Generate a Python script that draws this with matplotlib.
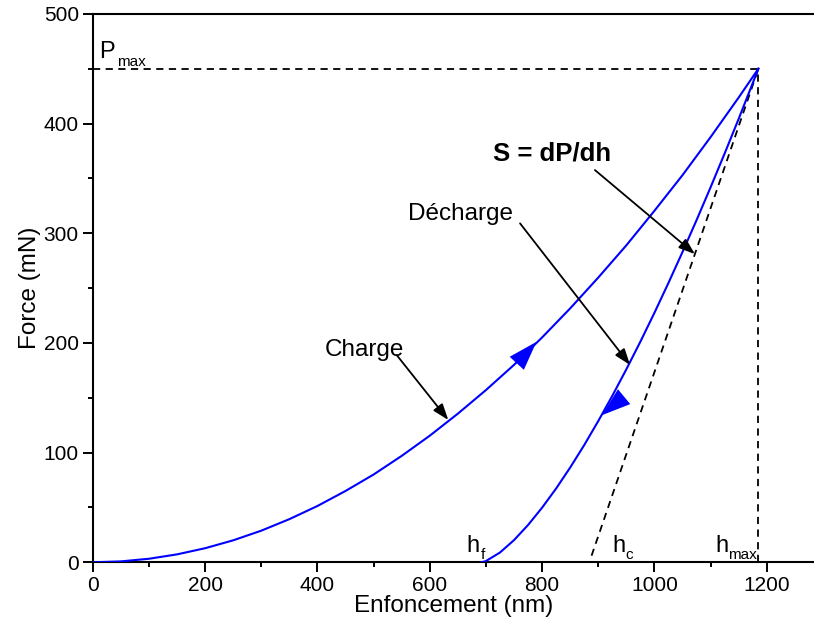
import matplotlib
matplotlib.use("Agg")
import matplotlib.pyplot as plt
from matplotlib.ticker import MultipleLocator

plt.rcParams['font.family'] = ['Liberation Sans', 'DejaVu Sans']

# ---- data ----
load_h = [0, 50, 100, 150, 200, 250, 300, 350, 400, 450, 500, 550, 600, 650,
          700, 750, 800, 850, 900, 950, 1000, 1050, 1100, 1150, 1185]
load_P = [0, 0.8, 3.2, 7.2, 12.8, 20, 28.8, 39.3, 51.3, 65, 80, 97, 115.4, 135.5,
          157, 180, 205, 231.5, 259.6, 289, 320.5, 353, 387.7, 423.8, 450]

unload_h = [692, 700, 725, 750, 775, 800, 825, 850, 875, 900, 925, 950, 975,
            1000, 1025, 1050, 1075, 1100, 1125, 1150, 1185]
unload_P = [0, 1.1, 8.9, 20.2, 34, 49.8, 67.3, 86.4, 106.9, 128.8, 151.8, 176,
            201.2, 227.5, 254.8, 283, 312, 342, 372.8, 404.4, 450]

tangent_h = [888, 1185]
tangent_P = [6, 450]

P_max = 450
h_max = 1185
h_f = 692
h_c = 884

x_ticks = [0, 200, 400, 600, 800, 1000, 1200]
y_ticks = [0, 100, 200, 300, 400, 500]

fig = plt.figure(figsize=(8.14, 6.30), dpi=100)
ax = fig.add_axes([0.1139, 0.1075, 1.0 - 0.1139, 0.978 - 0.1075])

blue = '#0000ff'
ax.plot(load_h, load_P, color=blue, lw=1.5, zorder=3)
ax.plot(unload_h, unload_P, color=blue, lw=1.5, zorder=3)

dash = (0, (4, 3))
ax.plot([0, h_max], [P_max, P_max], color='black', lw=1.3, ls=dash)
ax.plot([h_max, h_max], [0, P_max], color='black', lw=1.3, ls=dash)
ax.plot(tangent_h, tangent_P, color='black', lw=1.3, ls=dash)

# direction triangles on curves
tri = dict(arrowstyle='-|>,head_length=1.0,head_width=0.33', color=blue,
           lw=0, mutation_scale=21, shrinkA=0, shrinkB=0)
ax.annotate('', xy=(790, 201), xytext=(757, 182.6), arrowprops=tri, zorder=4)
ax.annotate('', xy=(906, 134), xytext=(939, 148), arrowprops=tri, zorder=4)

# annotations
arr = dict(arrowstyle='-|>,head_length=0.7,head_width=0.25', color='black',
           lw=1.3, mutation_scale=14, shrinkA=0, shrinkB=0)
ax.annotate('', xy=(633, 129.7), xytext=(541, 189), arrowprops=arr)
ax.annotate('', xy=(956.6, 179.9), xytext=(760.7, 309), arrowprops=arr)
ax.annotate('', xy=(1072, 281), xytext=(894, 357.6), arrowprops=arr)

ax.text(413.6, 188, 'Charge', fontsize=17.5, ha='left', va='baseline')
ax.text(561.6, 312, 'Décharge', fontsize=17.5, ha='left', va='baseline')
ax.text(712.6, 366.7, 'S = dP/dh', fontsize=18.5, fontweight='bold',
        ha='left', va='baseline')


def sub_label(x, y, main, sub, dx, dy=5.5):
    ax.text(x, y, main, fontsize=17, ha='left', va='baseline')
    ax.annotate(sub, xy=(x, y), xytext=(dx, -dy), textcoords='offset points',
                fontsize=11, ha='left', va='baseline')


sub_label(11.8, 459.4, 'P', 'max', 13)
sub_label(665.8, 9.7, 'h', 'f', 10.3)
sub_label(925.7, 9.7, 'h', 'c', 9.2)
sub_label(1108, 9.7, 'h', 'max', 9.3)

ax.set_xlim(0, 1284)
ax.set_ylim(0, 500)
ax.set_xticks(x_ticks)
ax.set_yticks(y_ticks)
ax.xaxis.set_minor_locator(MultipleLocator(100))
ax.yaxis.set_minor_locator(MultipleLocator(50))
ax.tick_params(which='major', direction='out', length=7, width=1.4,
               labelsize=15, pad=3)
ax.tick_params(which='minor', direction='out', length=3.5, width=1.4)
ax.tick_params(top=False, right=False)

for s in ['left', 'bottom', 'top']:
    ax.spines[s].set_linewidth(1.5)
ax.spines['right'].set_visible(False)

ax.set_xlabel('Enfoncement (nm)', fontsize=17.5, labelpad=0)
ax.set_ylabel('Force (mN)', fontsize=17.5, labelpad=2)

fig.savefig('out.png', dpi=100)
